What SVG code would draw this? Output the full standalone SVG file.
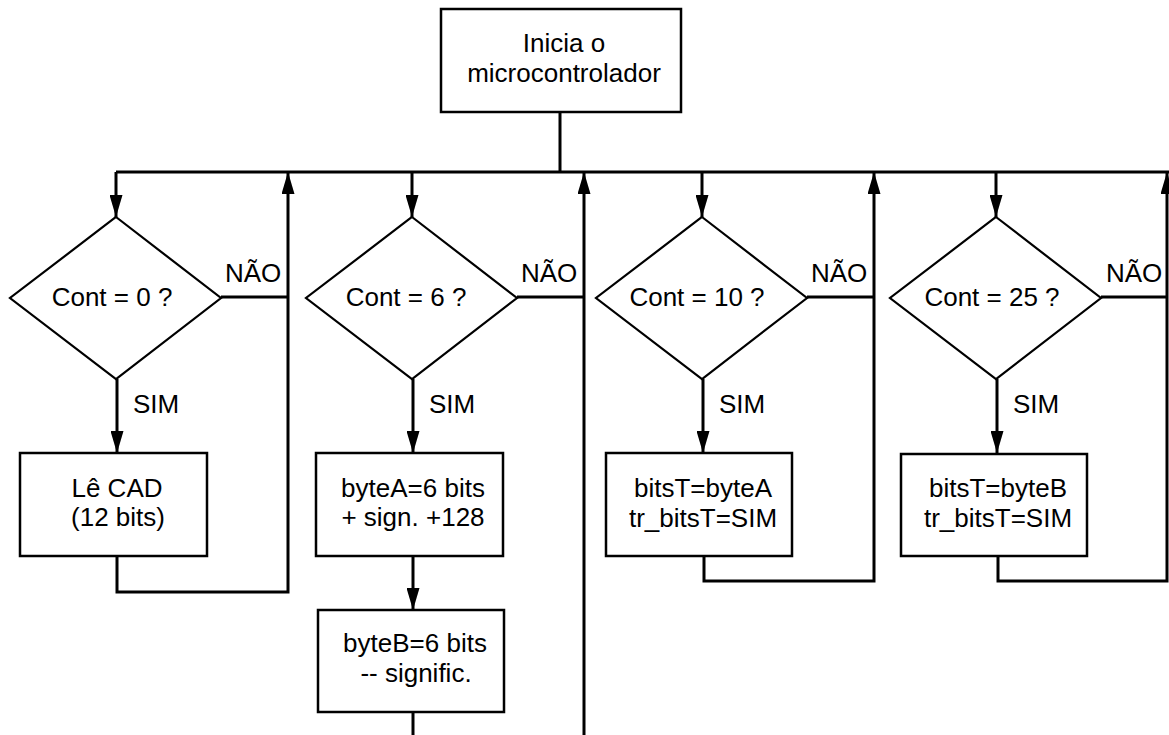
<svg xmlns="http://www.w3.org/2000/svg" width="1169" height="735" viewBox="0 0 1169 735">
  <style>
    .box { fill: #fff; stroke: #000; stroke-width: 2.5; }
    .dec { fill: #fff; stroke: #000; stroke-width: 2.2; }
    .wire { fill: none; stroke: #000; stroke-width: 3; }
    .arr { fill: none; stroke: #000; stroke-width: 3; marker-end: url(#head); }
    text { font-family: "Liberation Sans", Arial, sans-serif; font-size: 26px; fill: #000; }
    .c { text-anchor: middle; }
  </style>
  <defs>
    <marker id="head" viewBox="0 0 22 13" refX="22" refY="6.5" markerWidth="22" markerHeight="13" markerUnits="userSpaceOnUse" orient="auto">
      <path d="M0,0 L22,6.5 L0,13 z" fill="#000"/>
    </marker>
  </defs>
  <rect width="1169" height="735" fill="#fff"/>

  <!-- connectors -->
  <g id="connectors">
    <!-- start box to distribution bus -->
    <path class="wire" d="M560,112 V172"/>
    <path class="wire" d="M116,172 H1169"/>
    <!-- bus down to each decision -->
    <path class="arr" d="M116,172 V217"/>
    <path class="arr" d="M412,172 V217"/>
    <path class="arr" d="M702,172 V217"/>
    <path class="arr" d="M996,172 V217"/>
    <!-- SIM branches -->
    <path class="arr" d="M117,379 V453"/>
    <path class="arr" d="M413,379 V453"/>
    <path class="arr" d="M703,379 V453"/>
    <path class="arr" d="M997,379 V453"/>
    <path class="arr" d="M413,556 V610"/>
    <path class="wire" d="M413,712 V735"/>
    <!-- NAO branches and returns to bus -->
    <path class="wire" d="M221,297 H288"/>
    <path class="arr" d="M117,556 V592 H288 V172"/>
    <path class="wire" d="M517,297 H584"/>
    <path class="arr" d="M584,735 V172"/>
    <path class="wire" d="M807,297 H874"/>
    <path class="arr" d="M704,556 V581 H874 V172"/>
    <path class="wire" d="M1101,297 H1167"/>
    <path class="arr" d="M998,556 V581 H1167 V172"/>
  </g>

  <!-- connector labels -->
  <g id="labels">
    <text x="225" y="282">NÃO</text>
    <text x="521" y="282">NÃO</text>
    <text x="811" y="282">NÃO</text>
    <text x="1106" y="282">NÃO</text>
    <text x="133" y="413">SIM</text>
    <text x="429" y="413">SIM</text>
    <text x="719" y="413">SIM</text>
    <text x="1013" y="413">SIM</text>
  </g>

  <g id="start">
    <rect class="box" x="441" y="9" width="240" height="103"/>
    <text class="c" x="564" y="52">Inicia o</text>
    <text class="c" x="564" y="82">microcontrolador</text>
  </g>

  <g id="dec0">
    <polygon class="dec" points="116,217 221,298 116,379 10,298"/>
    <text class="c" x="112" y="306">Cont = 0 ?</text>
  </g>
  <g id="dec6">
    <polygon class="dec" points="412,217 517,298 412,379 306,298"/>
    <text class="c" x="406" y="306">Cont = 6 ?</text>
  </g>
  <g id="dec10">
    <polygon class="dec" points="702,217 807,298 702,379 596,298"/>
    <text class="c" x="697" y="306">Cont = 10 ?</text>
  </g>
  <g id="dec25">
    <polygon class="dec" points="996,217 1101,298 996,379 890,298"/>
    <text class="c" x="992" y="306">Cont = 25 ?</text>
  </g>

  <g id="readCAD">
    <rect class="box" x="20" y="453" width="187" height="103"/>
    <text class="c" x="117" y="497">Lê CAD</text>
    <text class="c" x="118" y="526">(12 bits)</text>
  </g>
  <g id="byteA">
    <rect class="box" x="316" y="453" width="187" height="103"/>
    <text class="c" x="413" y="497">byteA=6 bits</text>
    <text class="c" x="413" y="526">+ sign. +128</text>
  </g>
  <g id="byteB">
    <rect class="box" x="318" y="610" width="186" height="102"/>
    <text class="c" x="415" y="652">byteB=6 bits</text>
    <text class="c" x="416" y="682">-- signific.</text>
  </g>
  <g id="sendA">
    <rect class="box" x="606" y="453" width="186" height="103"/>
    <text class="c" x="703" y="497">bitsT=byteA</text>
    <text class="c" x="703" y="527">tr_bitsT=SIM</text>
  </g>
  <g id="sendB">
    <rect class="box" x="901" y="454" width="186" height="102"/>
    <text class="c" x="998" y="497">bitsT=byteB</text>
    <text class="c" x="998" y="527">tr_bitsT=SIM</text>
  </g>
</svg>
